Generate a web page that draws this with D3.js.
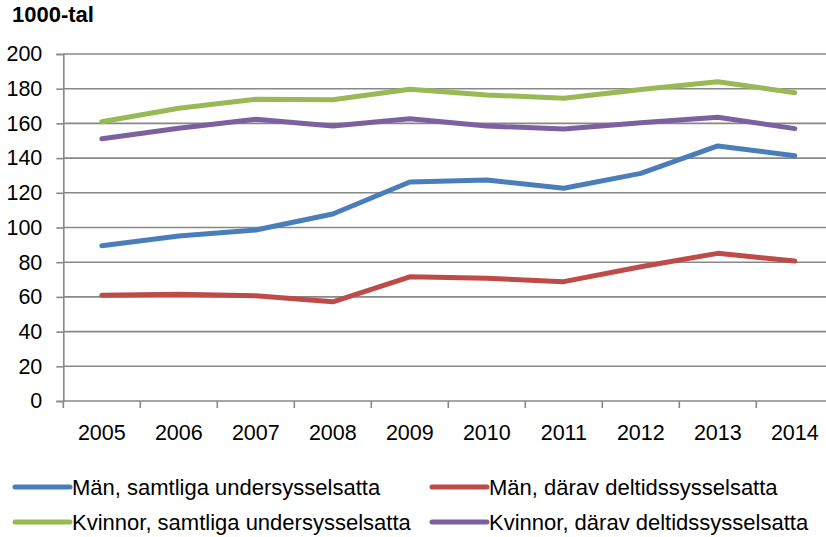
<!DOCTYPE html>
<html>
<head>
<meta charset="utf-8">
<script src="https://cdn.jsdelivr.net/npm/d3@7/dist/d3.min.js"></script>
<style>
  html, body { margin: 0; padding: 0; background: #fff; }
  svg { display: block; font-family: "Liberation Sans", Arial, sans-serif; }
</style>
</head>
<body>
<svg id="chart" width="826" height="537"></svg>
<script>
// Undersysselsatta per år, 1000-tal
const years = ["2005", "2006", "2007", "2008", "2009", "2010", "2011", "2012", "2013", "2014"];
const manSamtliga    = [89.5, 95.1, 98.6, 107.8, 126.2, 127.4, 122.6, 131.2, 147.0, 141.4];
const manDeltid      = [60.9, 61.5, 60.7, 57.2, 71.6, 70.7, 68.8, 77.4, 85.1, 80.7];
const kvinnorSamtliga = [161.0, 168.7, 173.9, 173.6, 179.7, 176.4, 174.5, 179.6, 184.0, 177.7];
const kvinnorDeltid  = [151.2, 157.2, 162.4, 158.5, 162.7, 158.5, 156.8, 160.4, 163.5, 157.0];
const yTicks = [0, 20, 40, 60, 80, 100, 120, 140, 160, 180, 200];
const unitLabel = "1000-tal";

const series = [
  { name: "Män, samtliga undersysselsatta",     values: manSamtliga,     color: "#4a7ebb" },
  { name: "Män, därav deltidssysselsatta",      values: manDeltid,       color: "#be4b48" },
  { name: "Kvinnor, samtliga undersysselsatta", values: kvinnorSamtliga, color: "#98b954" },
  { name: "Kvinnor, därav deltidssysselsatta",  values: kvinnorDeltid,   color: "#7d60a0" }
];

const svg = d3.select("#chart");
const plot = { left: 63.3, right: 833.3, top: 54, bottom: 401 };

const x = d3.scaleBand().domain(years).range([plot.left, plot.right]);
const y = d3.scaleLinear().domain([0, 200]).range([plot.bottom, plot.top]);
const grid = "#888888";

// horizontal gridlines
svg.append("g")
  .selectAll("line")
  .data(yTicks.filter(d => d > 0))
  .join("line")
  .attr("x1", plot.left).attr("x2", plot.right)
  .attr("y1", d => y(d)).attr("y2", d => y(d))
  .attr("stroke", grid).attr("stroke-width", 1.6);

// y axis
const yAxis = svg.append("g")
  .attr("transform", `translate(${plot.left},0)`)
  .call(d3.axisLeft(y).tickValues(yTicks).tickSize(7).tickPadding(14));
yAxis.select(".domain").attr("stroke", grid).attr("stroke-width", 1.6);
yAxis.selectAll(".tick line").attr("stroke", grid).attr("stroke-width", 1.6);
yAxis.selectAll(".tick text")
  .attr("font-size", 21.5).attr("fill", "#000")
  .attr("font-family", "Liberation Sans, Arial, sans-serif");

// x axis with ticks at band boundaries
const xAxisG = svg.append("g").attr("transform", `translate(0,${plot.bottom})`);
xAxisG.append("line")
  .attr("x1", plot.left).attr("x2", plot.right)
  .attr("stroke", grid).attr("stroke-width", 1.6);
xAxisG.selectAll("line.tk")
  .data(years)
  .join("line")
  .attr("class", "tk")
  .attr("x1", d => x(d)).attr("x2", d => x(d))
  .attr("y1", 0).attr("y2", 7)
  .attr("stroke", grid).attr("stroke-width", 1.6);
xAxisG.selectAll("text")
  .data(years)
  .join("text")
  .attr("x", d => x(d) + x.bandwidth() / 2)
  .attr("y", 39)
  .attr("text-anchor", "middle")
  .attr("font-size", 21.5)
  .text(d => d);

// unit label
svg.append("text")
  .attr("x", 12).attr("y", 22)
  .attr("font-size", 22).attr("font-weight", "bold")
  .text(unitLabel);

// lines
const line = d3.line()
  .x((d, i) => x(years[i]) + x.bandwidth() / 2)
  .y(d => y(d));

svg.append("g")
  .selectAll("path")
  .data(series)
  .join("path")
  .attr("d", d => line(d.values))
  .attr("fill", "none")
  .attr("stroke", d => d.color)
  .attr("stroke-width", 5)
  .attr("stroke-linecap", "round")
  .attr("stroke-linejoin", "round");

// legend, two columns
const legendPos = [
  { x: 15, y: 487 }, { x: 432, y: 487 },
  { x: 15, y: 522 }, { x: 432, y: 522 }
];
const lg = svg.append("g")
  .selectAll("g")
  .data(series)
  .join("g")
  .attr("transform", (d, i) => `translate(${legendPos[i].x},${legendPos[i].y})`);
lg.append("line")
  .attr("x1", 0).attr("x2", 55)
  .attr("stroke", d => d.color)
  .attr("stroke-width", 5)
  .attr("stroke-linecap", "round");
lg.append("text")
  .attr("x", 57).attr("dy", "0.35em")
  .attr("font-size", 22)
  .text(d => d.name);
</script>
</body>
</html>
